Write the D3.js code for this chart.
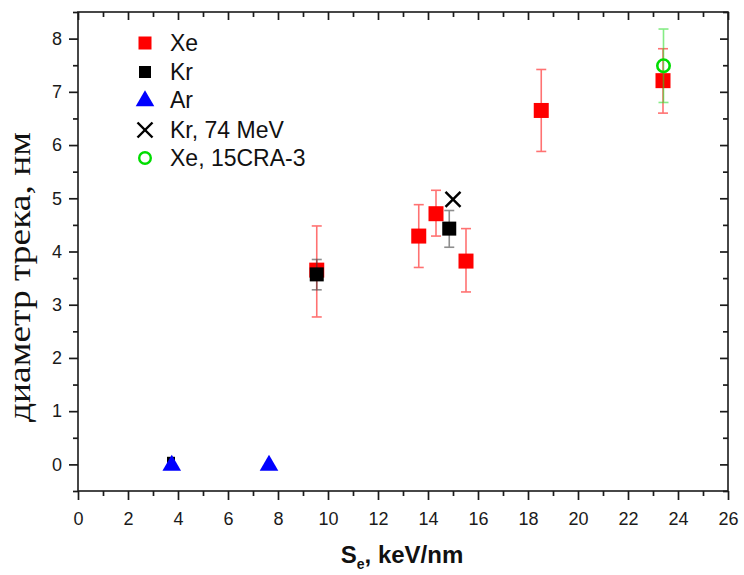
<!DOCTYPE html>
<html><head><meta charset="utf-8">
<script src="https://cdn.jsdelivr.net/npm/d3@7"></script>
<style>body{margin:0;background:#fff}svg{display:block}</style>
</head><body>
<script>
// Data (x: Se keV/nm, y: track diameter nm, lo/hi: error bar ends)
const xeData = [
  {x: 9.55, y: 3.65, lo: 2.77, hi: 4.48},
  {x: 13.63, y: 4.29, lo: 3.70, hi: 4.88},
  {x: 14.32, y: 4.71, lo: 4.29, hi: 5.15},
  {x: 15.52, y: 3.82, lo: 3.24, hi: 4.43},
  {x: 18.53, y: 6.65, lo: 5.88, hi: 7.42},
  {x: 23.40, y: 7.21, lo: 6.60, hi: 7.81}
];
const krData = [
  {x: 3.72, y: 0.03, lo: null, hi: null},
  {x: 9.55, y: 3.57, lo: 3.28, hi: 3.85},
  {x: 14.85, y: 4.43, lo: 4.08, hi: 4.77}
];
const arData = [
  {x: 3.75, y: 0},
  {x: 7.64, y: 0}
];
const kr74Data = [{x: 15.0, y: 4.98}];
const xe15Data = [{x: 23.42, y: 7.49, lo: 6.80, hi: 8.18}];
const legendLabels = ["Xe", "Kr", "Ar", "Kr, 74 MeV", "Xe, 15CRA-3"];
const xTicks = [0,2,4,6,8,10,12,14,16,18,20,22,24,26];
const yTicks = [0,1,2,3,4,5,6,7,8];

const W = 744, H = 575;
const mLeft = 78, mRight = 728, mTop = 12, mBottom = 491;
const svg = d3.select("body").append("svg").attr("width", W).attr("height", H);
const x = d3.scaleLinear().domain([0, 26]).range([mLeft, mRight]);
const y = d3.scaleLinear().domain([-0.5, 8.5]).range([mBottom, mTop]);

const font = "'Liberation Sans', Arial, sans-serif";
const axisCol = "#1a1a1a";

// frame
svg.append("rect").attr("x", mLeft).attr("y", mTop).attr("width", mRight-mLeft).attr("height", mBottom-mTop)
  .attr("fill", "none").attr("stroke", axisCol).attr("stroke-width", 1.6);

// bottom axis (outward)
const xMinor = d3.range(1, 26, 2);
const gx = svg.append("g").attr("transform", `translate(0,${mBottom})`);
gx.call(d3.axisBottom(x).tickValues(xTicks).tickSize(9).tickPadding(12).tickFormat(d3.format("d")));
gx.append("g").call(d3.axisBottom(x).tickValues(xMinor).tickSize(5).tickFormat(""));
gx.selectAll(".domain").remove();
// top axis (inward)
const gt = svg.append("g").attr("transform", `translate(0,${mTop})`);
gt.call(d3.axisBottom(x).tickValues(xTicks).tickSize(8).tickFormat(""));
gt.append("g").call(d3.axisBottom(x).tickValues(xMinor).tickSize(5).tickFormat(""));
gt.selectAll(".domain").remove();
// left axis (outward)
const yMinor = d3.range(-0.5, 8.6, 1);
const gy = svg.append("g").attr("transform", `translate(${mLeft},0)`);
gy.call(d3.axisLeft(y).tickValues(yTicks).tickSize(9).tickPadding(7).tickFormat(d3.format("d")));
gy.append("g").call(d3.axisLeft(y).tickValues(yMinor).tickSize(5).tickFormat(""));
gy.selectAll(".domain").remove();
// right axis (inward)
const gr = svg.append("g").attr("transform", `translate(${mRight},0)`);
gr.call(d3.axisLeft(y).tickValues(yTicks).tickSize(8).tickFormat(""));
gr.append("g").call(d3.axisLeft(y).tickValues(yMinor).tickSize(5).tickFormat(""));
gr.selectAll(".domain").remove();

svg.selectAll(".tick line").attr("stroke", axisCol).attr("stroke-width", 1.7);
svg.selectAll(".tick text").attr("font-family", font).attr("font-size", 18).attr("fill", "#1a1a1a");

// error bars
function errBars(data, color, cap) {
  const g = svg.append("g").attr("stroke", color).attr("stroke-width", 1.6).attr("opacity", 0.55);
  data.filter(d => d.lo != null).forEach(d => {
    g.append("line").attr("x1", x(d.x)).attr("x2", x(d.x)).attr("y1", y(d.lo)).attr("y2", y(d.hi));
    g.append("line").attr("x1", x(d.x)-cap).attr("x2", x(d.x)+cap).attr("y1", y(d.lo)).attr("y2", y(d.lo));
    g.append("line").attr("x1", x(d.x)-cap).attr("x2", x(d.x)+cap).attr("y1", y(d.hi)).attr("y2", y(d.hi));
  });
}
const sq = 15, sqK = 14;

// Kr hidden point below Ar
svg.append("g").selectAll("rect").data(krData.slice(0,1)).join("rect")
  .attr("x", d => x(d.x)-4).attr("y", d => y(d.y)-6).attr("width", 8).attr("height", 8).attr("fill", "#000");

// Xe
errBars(xeData, "#ff0000", 5);
svg.append("g").selectAll("rect").data(xeData).join("rect")
  .attr("x", d => x(d.x)-sq/2).attr("y", d => y(d.y)-sq/2).attr("width", sq).attr("height", sq).attr("fill", "#ff0000");
// Kr
errBars(krData, "#333333", 5);
svg.append("g").selectAll("rect").data(krData.slice(1)).join("rect")
  .attr("x", d => x(d.x)-sqK/2).attr("y", d => y(d.y)-sqK/2).attr("width", sqK).attr("height", sqK).attr("fill", "#000");
// Ar
const tri = d3.symbol().type(d3.symbolTriangle).size(150);
svg.append("g").selectAll("path").data(arData).join("path")
  .attr("d", tri).attr("transform", d => `translate(${x(d.x)},${y(d.y)+1})`).attr("fill", "#0000ff");
// Kr 74 MeV
const cross = (g, cx, cy, s) => {
  g.append("line").attr("x1", cx-s).attr("y1", cy-s).attr("x2", cx+s).attr("y2", cy+s);
  g.append("line").attr("x1", cx-s).attr("y1", cy+s).attr("x2", cx+s).attr("y2", cy-s);
};
const gc = svg.append("g").attr("stroke", "#000").attr("stroke-width", 2.4);
kr74Data.forEach(d => cross(gc, x(d.x), y(d.y), 7.5));
// Xe 15CRA-3
errBars(xe15Data, "#22dd22", 5);
svg.append("g").selectAll("circle").data(xe15Data).join("circle")
  .attr("cx", d => x(d.x)).attr("cy", d => y(d.y)).attr("r", 6.2)
  .attr("fill", "none").attr("stroke", "#00dd00").attr("stroke-width", 2.6);

// legend
const lg = svg.append("g");
const ly = [43, 72, 100, 130, 158], lx = 145, tx = 170;
lg.append("rect").attr("x", lx-6.5).attr("y", ly[0]-6.5).attr("width", 13).attr("height", 13).attr("fill", "#ff0000");
lg.append("rect").attr("x", lx-6).attr("y", ly[1]-6).attr("width", 12).attr("height", 12).attr("fill", "#000");
lg.append("path").attr("d", d3.symbol().type(d3.symbolTriangle).size(150)).attr("transform", `translate(${lx},${ly[2]+1})`).attr("fill", "#0000ff");
const lc = lg.append("g").attr("stroke", "#000").attr("stroke-width", 2.4);
cross(lc, lx, ly[3], 7.5);
lg.append("circle").attr("cx", lx).attr("cy", ly[4]).attr("r", 5.8).attr("fill", "none").attr("stroke", "#00dd00").attr("stroke-width", 2.4);
lg.selectAll("text").data(legendLabels).join("text")
  .attr("x", tx).attr("y", (d, i) => ly[i]).attr("dy", "0.35em")
  .attr("font-family", font).attr("font-size", 23).attr("fill", "#111").text(d => d);

// axis titles
const xt = svg.append("text").attr("x", 402).attr("y", 563).attr("text-anchor", "middle")
  .attr("font-family", font).attr("font-size", 24).attr("font-weight", "bold").attr("fill", "#111");
xt.append("tspan").text("S");
xt.append("tspan").attr("font-size", 14).attr("dy", 6).text("e");
xt.append("tspan").attr("dy", -6).text(", keV/nm");

svg.append("text").attr("transform", "translate(30,277) rotate(-90)").attr("text-anchor", "middle")
  .attr("font-family", "'Liberation Serif', 'Times New Roman', serif").attr("font-size", 31).attr("fill", "#111")
  .attr("textLength", 290).attr("lengthAdjust", "spacingAndGlyphs")
  .text("диаметр трека, нм");
</script>
</body></html>
